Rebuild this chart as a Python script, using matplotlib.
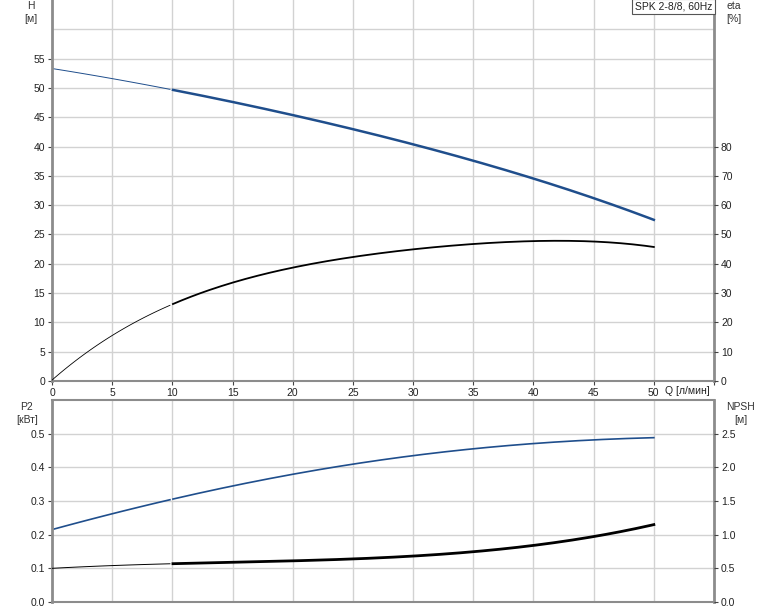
import matplotlib.pyplot as plt
import numpy as np

plt.rcParams['font.family'] = ['Liberation Sans', 'DejaVu Sans']
plt.rcParams['font.size'] = 7.5

# Q [л/мин]
q = [0, 5, 10, 15, 20, 25, 30, 35, 40, 45, 50]
# H [м]
head = [53.3, 51.6, 49.7, 47.6, 45.3, 43.0, 40.4, 37.6, 34.5, 31.2, 27.5]
# eta [%]
eta = [0, 16.3, 25.9, 33.3, 38.4, 42.5, 45.2, 46.9, 47.6, 47.3, 45.9]
# P2 [кВт]
p2 = [0.215, 0.262, 0.306, 0.344, 0.379, 0.410, 0.435, 0.455, 0.470, 0.482, 0.488]
# NPSH [м]
npsh = [0.50, 0.54, 0.57, 0.59, 0.61, 0.64, 0.68, 0.75, 0.84, 0.97, 1.15]

title = "SPK 2-8/8, 60Hz"
blue = '#1f4e8c'
grid_c = '#d2d2d2'
spine_c = '#8c8c8c'


def smooth(x, y, n=200):
    xs = np.linspace(x[0], x[-1], n)
    coef = np.polyfit(x, y, 4)
    return xs, np.polyval(coef, xs)


def plot_curve(ax, x, y, color, lw_thin=0.7, lw_thick=1.8, split=10):
    xs, ys = smooth(x, y)
    m = xs <= split
    ax.plot(xs[m], ys[m], color=color, lw=lw_thin)
    ax.plot(xs[~m], ys[~m], color=color, lw=lw_thick)


def style(ax, top=False):
    ax.set_xlim(0, 55)
    ax.set_xticks(np.arange(0, 56, 5))
    ax.grid(True, color=grid_c, lw=1)
    ax.set_axisbelow(True)
    ax.spines['top'].set_visible(top)
    for s in ['left', 'right', 'bottom', 'top']:
        ax.spines[s].set_color(spine_c)
        ax.spines[s].set_linewidth(2)
    ax.spines['bottom'].set_linewidth(1.5)
    ax.spines['top'].set_linewidth(1.5)
    ax.tick_params(length=3, width=0.8, color='#444444', labelcolor='#222222', pad=2)


def style_right(ax):
    ax.tick_params(length=3, width=0.8, color='#444444', labelcolor='#222222', pad=2)
    for s in ax.spines.values():
        s.set_visible(False)


fig = plt.figure(figsize=(7.74, 6.11), dpi=100)

# upper chart: H and eta
ax1 = fig.add_axes([52 / 774, 1 - 381 / 611, 662 / 774, 381 / 611])
style(ax1)
ax1.set_ylim(0, 65)
ax1.set_yticks(np.arange(0, 56, 5))
ax1.axhline(60, color=grid_c, lw=1, zorder=0)
ax1.set_xticklabels([str(v) if v <= 50 else '' for v in range(0, 56, 5)])
plot_curve(ax1, q, head, blue, lw_thin=0.7, lw_thick=1.8)

ax1r = ax1.twinx()
ax1r.set_ylim(0, 130)
ax1r.set_yticks(np.arange(0, 81, 10))
style_right(ax1r)
plot_curve(ax1r, q, eta, 'black', lw_thin=0.6, lw_thick=1.3)

ax1.text(-0.032, 0.997, 'H\n[м]', transform=ax1.transAxes, ha='center', va='top',
         color='#333333', linespacing=1.4)
ax1.text(1.03, 0.997, 'eta\n[%]', transform=ax1.transAxes, ha='center', va='top',
         color='#333333', linespacing=1.4)
ax1.text(50.9, -1.7, 'Q [л/мин]', ha='left', va='center', color='#222222')
ax1.text(0.997, 0.997, title, transform=ax1.transAxes, ha='right', va='top',
         color='#222222', bbox=dict(boxstyle='square,pad=0.25', fc='white', ec='#555555', lw=0.8))

# lower chart: P2 and NPSH
ax2 = fig.add_axes([52 / 774, 1 - 602 / 611, 662 / 774, 202 / 611])
style(ax2, top=True)
ax2.set_ylim(0, 0.6)
ax2.set_yticks(np.arange(0, 0.51, 0.1))
ax2.set_yticklabels([f'{v:.1f}' for v in np.arange(0, 0.51, 0.1)])
ax2.set_xticklabels([])
ax2.tick_params(axis='x', length=0)
plot_curve(ax2, q, p2, blue, lw_thin=1.2, lw_thick=1.2)

ax2r = ax2.twinx()
ax2r.set_ylim(0, 3.0)
ax2r.set_yticks(np.arange(0, 2.51, 0.5))
ax2r.set_yticklabels([f'{v:.1f}' for v in np.arange(0, 2.51, 0.5)])
style_right(ax2r)
plot_curve(ax2r, q, npsh, 'black', lw_thin=0.7, lw_thick=2.0)

ax2.text(-0.038, 0.99, 'P2\n[кВт]', transform=ax2.transAxes, ha='center', va='top',
         color='#333333', linespacing=1.4)
ax2.text(1.04, 0.99, 'NPSH\n[м]', transform=ax2.transAxes, ha='center', va='top',
         color='#333333', linespacing=1.4)

fig.savefig('out.png', dpi=100)
